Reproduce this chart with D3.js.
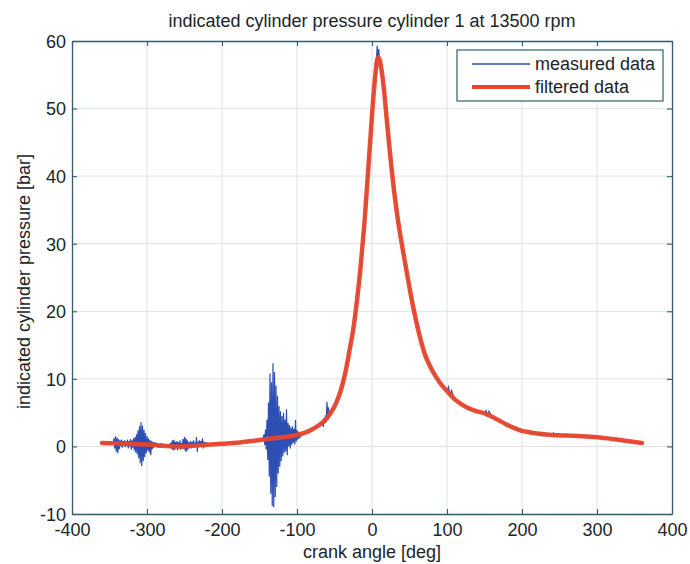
<!DOCTYPE html>
<html><head><meta charset="utf-8">
<script src="https://cdn.jsdelivr.net/npm/d3@7"></script>
<style>
html,body{margin:0;padding:0;background:#fff;}
svg{display:block;font-family:"Liberation Sans",Arial,Helvetica,sans-serif;}
</style></head>
<body>
<svg id="chart" width="690" height="564"></svg>
<script>
// ---- data ----
const titleText = "indicated cylinder pressure cylinder 1 at 13500 rpm";
const xLabel = "crank angle [deg]";
const yLabel = "indicated cylinder pressure [bar]";
const xTicks = [-400,-300,-200,-100,0,100,200,300,400];
const yTicks = [-10,0,10,20,30,40,50,60];
const seriesNames = ["measured data","filtered data"];

const filteredAngle = [-360,-340,-320,-300,-280,-260,-240,-220,-200,-180,-160,-140,-120,-100,-90,-80,-70,-60,-55,-50,-45,-40,-35,-30,-25,-20,-15,-10,-5,0,4,8,10,12,16,20,25,30,35,40,45,50,55,60,70,80,90,100,110,120,130,140,150,160,170,180,190,200,210,220,240,260,280,300,320,340,360];
const filteredPressure = [0.5,0.45,0.35,0.3,0.1,0.0,0.1,0.25,0.4,0.55,0.8,1.1,1.35,1.7,2.0,2.5,3.2,4.2,5.0,5.9,7.2,8.9,11.2,14.2,17.3,21.6,26.8,33.2,41,49,54.5,57.6,57.3,56.2,52.8,48,42.3,37.3,33.2,29.8,26.6,23.5,20.6,18,13.8,11.3,9.5,8.2,7.0,6.2,5.6,5.2,4.9,4.4,3.8,3.2,2.7,2.3,2.1,1.9,1.7,1.6,1.5,1.35,1.1,0.8,0.5];

const measuredPoints = [
[-360,0.5],[-350,0.5],
[-346,0.5],[-345,0.6],[-344,1.2],[-343,-0.3],[-342,1.5],[-341,-0.8],[-340,1.3],[-339,-1.0],[-338,1.1],[-337,-0.4],[-336,0.9],[-335,0.0],[-334,1.0],[-333,-0.2],[-332,0.8],[-331,0.1],[-330,0.9],[-329,-0.1],[-328,0.7],[-327,0.2],[-326,1.0],[-325,-0.3],[-324,0.8],[-323,0.0],[-322,1.1],[-321,-0.5],[-320,0.9],[-319,-0.2],[-318,1.2],[-317,-0.6],[-316,1.4],[-315,-0.9],[-314,1.8],[-313,-1.2],[-312,2.4],[-311,-1.8],[-310,3.0],[-309,-2.5],[-308,3.6],[-307,-2.9],[-306,3.1],[-305,-2.2],[-304,2.5],[-303,-1.6],[-302,2.0],[-301,-1.0],[-300,1.5],[-299,-0.6],[-298,1.2],[-297,-0.9],[-296,1.0],[-295,-1.3],[-294,0.8],[-293,-0.4],[-292,0.7],[-291,-0.2],[-290,0.6],[-289,0.0],[-288,0.5],
[-286,0.3],[-285,-0.2],[-284,0.4],[-283,-0.1],[-282,0.5],[-281,-0.2],[-280,0.3],[-278,0.3],[-276,0.0],[-274,0.2],[-272,-0.1],[-270,0.2],
[-268,0.5],[-267,-0.4],[-266,0.9],[-265,-0.6],[-264,1.0],[-263,-0.5],[-262,0.7],[-261,-0.3],[-260,0.8],[-259,-0.6],[-258,0.6],[-257,-0.2],[-256,0.9],[-255,-0.5],[-254,0.5],[-253,-0.3],[-252,1.1],[-251,-0.4],[-250,1.4],[-249,-0.7],[-248,1.2],[-247,-0.8],[-246,0.9],[-245,-0.4],[-244,0.6],[-243,-0.1],[-242,0.8],[-241,-0.3],[-240,0.7],[-239,-0.2],[-238,0.9],[-237,-0.1],[-236,0.6],[-235,0.0],[-234,1.4],[-233,-0.8],[-232,0.7],[-231,0.1],[-230,0.9],[-229,0.0],[-228,0.8],[-227,0.1],[-226,1.2],[-225,-0.3],[-224,0.7],[-223,0.1],[-222,0.6],[-221,0.2],[-220,0.5],[-218,0.3],[-216,0.4],
[-210,0.4],[-200,0.4],[-190,0.5],[-180,0.55],[-170,0.7],[-160,0.8],[-150,0.95],
[-146,1.0],[-145,1.3],[-144,1.8],[-143,0.2],[-142,2.5],[-141,-0.5],[-140,4.0],[-139,-2.0],[-138,6.5],[-137,-4.5],[-136,10.8],[-135,-7.0],[-134,9.5],[-133,-8.8],[-132,12.3],[-131,-9.0],[-130,11.0],[-129,-7.5],[-128,9.0],[-127,-6.0],[-126,7.5],[-125,-4.0],[-124,6.0],[-123,-3.0],[-122,5.2],[-121,-2.2],[-120,4.5],[-119,-1.5],[-118,5.0],[-117,-1.0],[-116,4.0],[-115,-0.8],[-114,5.5],[-113,-1.3],[-112,3.5],[-111,0.0],[-110,3.2],[-109,-0.3],[-108,2.8],[-107,0.2],[-106,3.0],[-105,0.5],[-104,2.6],[-103,0.3],[-102,3.9],[-101,0.7],[-100,2.4],[-99,1.0],[-98,2.2],[-97,1.2],[-96,2.0],[-95,1.5],[-94,1.8],[-92,1.9],
[-90,2.0],[-85,2.2],[-80,2.5],[-75,2.8],[-70,3.2],[-66,3.6],[-65,2.9],[-64,4.2],[-63,3.4],[-62,4.6],[-61,3.6],[-60,6.6],[-59,3.9],[-58,5.8],[-57,4.2],[-56,5.2],[-55,4.8],[-54,5.5],[-52,5.5],[-50,5.9],[-45,7.2],[-40,8.9],[-35,11.2],[-30,14.2],[-25,17.3],[-20,21.6],[-15,26.8],[-10,33.2],[-5,41],[0,49],[3,53.5],[5,55.5],[6,57.5],[7,59.3],[8,57.2],[9,58.8],[10,57.0],[12,56.2],[16,52.8],[20,48],[25,42.3],[30,37.3],[35,33.2],[40,29.8],[45,26.6],[50,23.5],[55,20.6],[60,18],[70,13.8],[80,11.3],[90,9.5],[100,8.2],[102,8.8],[104,7.6],[106,8.3],[110,7.0],[120,6.2],[130,5.6],[140,5.2],[150,4.9],[152,5.3],[154,4.6],[156,5.2],[160,4.4],[170,3.8],[180,3.2],[190,2.7],[200,2.3],[210,2.1],[220,1.9],[240,1.7],[242,2.0],[244,1.5],[246,1.9],[260,1.6],[280,1.5],[300,1.35],[320,1.1],[340,0.8],[360,0.5]
];

// ---- layout ----
const svg = d3.select("#chart");
const L = 72, R = 672, T = 41, B = 514;
const x = d3.scaleLinear().domain([-400,400]).range([L,R]);
const y = d3.scaleLinear().domain([-10,60]).range([B,T]);
const axisColor = "#2f5f6e";
const textColor = "#1b2428";
const gridColor = "#dde3e6";
const blue = "#2d4fb4";
const red = "#e8452c";

svg.append("rect").attr("x",0).attr("y",0).attr("width",690).attr("height",564).attr("fill","#fff");

// grid
const grid = svg.append("g");
grid.selectAll(".gx").data(xTicks.slice(1,-1)).enter().append("line")
  .attr("x1",d=>x(d)).attr("x2",d=>x(d)).attr("y1",T).attr("y2",B)
  .attr("stroke",gridColor).attr("stroke-width",1);
grid.selectAll(".gy").data(yTicks.slice(1,-1)).enter().append("line")
  .attr("y1",d=>y(d)).attr("y2",d=>y(d)).attr("x1",L).attr("x2",R)
  .attr("stroke",gridColor).attr("stroke-width",1);

// lines
svg.append("clipPath").attr("id","clip").append("rect")
  .attr("x",L).attr("y",T).attr("width",R-L).attr("height",B-T);

const lineMeasured = d3.line().x(d=>x(d[0])).y(d=>y(d[1]));
svg.append("path").datum(measuredPoints)
  .attr("d",lineMeasured).attr("fill","none").attr("stroke",blue)
  .attr("stroke-width",1.2).attr("clip-path","url(#clip)");

const filtered = filteredAngle.map((a,i)=>[a,filteredPressure[i]]);
const lineFiltered = d3.line().x(d=>x(d[0])).y(d=>y(d[1])).curve(d3.curveMonotoneX);
svg.append("path").datum(filtered)
  .attr("d",lineFiltered).attr("fill","none").attr("stroke",red)
  .attr("stroke-width",4.5).attr("stroke-linejoin","round").attr("stroke-linecap","round")
  .attr("opacity",0.95).attr("clip-path","url(#clip)");

// axes (box with inward ticks)
const tickLen = 5;
const fmt = d => String(d);
const axB = svg.append("g").attr("transform",`translate(0,${B})`)
  .call(d3.axisBottom(x).tickValues(xTicks).tickFormat(fmt).tickSizeInner(-tickLen).tickSizeOuter(0).tickPadding(8));
const axT = svg.append("g").attr("transform",`translate(0,${T})`)
  .call(d3.axisTop(x).tickValues(xTicks).tickFormat("").tickSizeInner(-tickLen).tickSizeOuter(0));
const axL = svg.append("g").attr("transform",`translate(${L},0)`)
  .call(d3.axisLeft(y).tickValues(yTicks).tickFormat(fmt).tickSizeInner(-tickLen).tickSizeOuter(0).tickPadding(6));
const axR = svg.append("g").attr("transform",`translate(${R},0)`)
  .call(d3.axisRight(y).tickValues(yTicks).tickFormat("").tickSizeInner(-tickLen).tickSizeOuter(0));
[axB,axT,axL,axR].forEach(g=>{
  g.selectAll("path").attr("stroke",axisColor).attr("stroke-width",1.3);
  g.selectAll("line").attr("stroke",axisColor).attr("stroke-width",1.1);
  g.selectAll("text").attr("fill",textColor).attr("font-size",18)
   .attr("font-family","'Liberation Sans',Arial,sans-serif");
});
axB.selectAll("text").attr("dy","0.78em");
axL.selectAll("text").attr("dy","0.35em");

// title and labels
svg.append("text").attr("x",(L+R)/2).attr("y",27).attr("text-anchor","middle")
  .attr("font-size",18).attr("fill",textColor).text(titleText);
svg.append("text").attr("x",(L+R)/2).attr("y",558).attr("text-anchor","middle")
  .attr("font-size",18).attr("fill",textColor).text(xLabel);
svg.append("text").attr("transform",`translate(30,${(T+B)/2 + 4}) rotate(-90)`)
  .attr("text-anchor","middle").attr("font-size",18).attr("fill",textColor).text(yLabel);

// legend
const lg = svg.append("g");
lg.append("rect").attr("x",457).attr("y",50).attr("width",206).attr("height",51)
  .attr("fill","#fff").attr("stroke",axisColor).attr("stroke-width",1.2);
const legendStyles = [{c:blue,w:1.3},{c:red,w:4}];
seriesNames.forEach((name,i)=>{
  const yy = 64 + i*23;
  lg.append("line").attr("x1",472).attr("x2",530).attr("y1",yy).attr("y2",yy)
    .attr("stroke",legendStyles[i].c).attr("stroke-width",legendStyles[i].w);
  lg.append("text").attr("x",535).attr("y",yy).attr("dy","0.35em")
    .attr("font-size",18).attr("fill",textColor).text(name);
});
</script>
</body></html>
